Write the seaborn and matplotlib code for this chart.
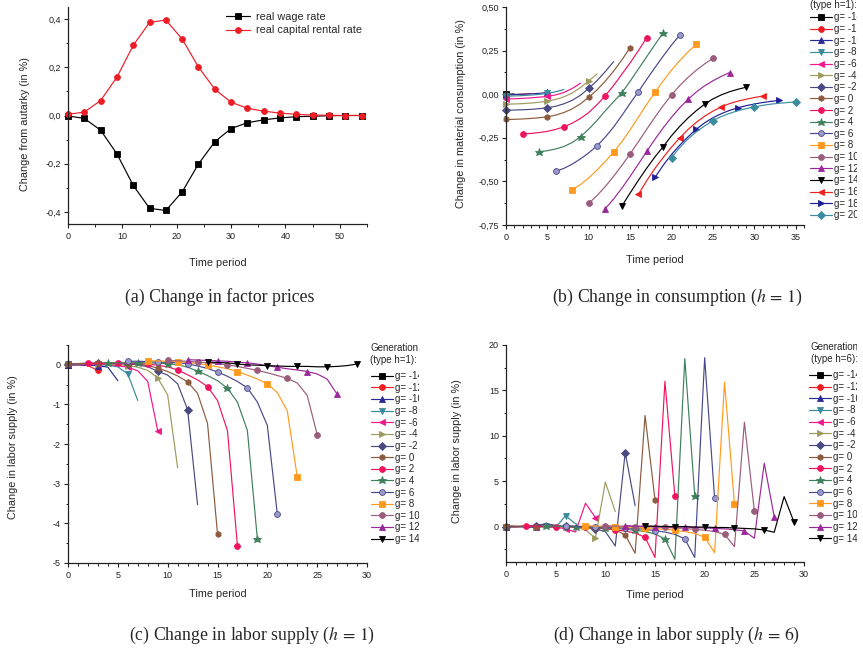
import matplotlib
matplotlib.use("Agg")
import matplotlib.pyplot as plt
from matplotlib import ticker, transforms
import seaborn as sns
import pandas as pd

# ---------------- data ----------------
# (a) factor prices
T_A = [0, 3, 6, 9, 12, 15, 18, 21, 24, 27, 30, 33, 36, 39, 42, 45, 48, 51, 54]
WAGE = [-0.002, -0.012, -0.061, -0.159, -0.290, -0.385, -0.394, -0.317, -0.201, -0.109,
        -0.054, -0.030, -0.018, -0.010, -0.005, -0.003, -0.001, 0.000, 0.000]
RENTAL = [0.005, 0.014, 0.062, 0.159, 0.291, 0.386, 0.396, 0.317, 0.201, 0.109,
          0.055, 0.030, 0.018, 0.010, 0.005, 0.002, 0.001, 0.000, 0.000]

# generations
GENS_B = [-14, -12, -10, -8, -6, -4, -2, 0, 2, 4, 6, 8, 10, 12, 14, 16, 18, 20]
GENS_CD = [-14, -12, -10, -8, -6, -4, -2, 0, 2, 4, 6, 8, 10, 12, 14]

# (b) consumption, h=1 (each series starts at t = max(0, g))
C_GM14 = [0.000, 0.001]
C_GM12 = [-0.003, -0.002, 0.000, 0.003]
C_GM10 = [-0.003, -0.002, 0.000, 0.002, 0.005, 0.010]
C_GM8 = [-0.011, -0.010, -0.008, -0.005, -0.001, 0.005, 0.014, 0.027]
C_GM6 = [-0.027, -0.026, -0.024, -0.021, -0.017, -0.013, -0.004, 0.010, 0.033, 0.063]
C_GM4 = [-0.057, -0.056, -0.054, -0.051, -0.046, -0.040, -0.030, -0.015, 0.007, 0.038, 0.076, 0.117]
C_GM2 = [-0.092, -0.091, -0.089, -0.087, -0.083, -0.078, -0.069, -0.055, -0.035, -0.006, 0.034, 0.078, 0.130, 0.187]
C_G0 = [-0.145, -0.144, -0.142, -0.139, -0.135, -0.130, -0.120, -0.105, -0.084, -0.055, -0.017, 0.025, 0.075, 0.132, 0.197, 0.267]
C_G2 = [-0.227, -0.225, -0.220, -0.213, -0.202, -0.187, -0.166, -0.139, -0.105, -0.060, -0.008, 0.050, 0.115, 0.180, 0.250, 0.324]
C_G4 = [-0.330, -0.324, -0.314, -0.300, -0.277, -0.244, -0.200, -0.150, -0.095, -0.043, 0.008, 0.075, 0.145, 0.215, 0.285, 0.353]
C_G6 = [-0.443, -0.425, -0.401, -0.371, -0.336, -0.296, -0.246, -0.188, -0.122, -0.052, 0.015, 0.085, 0.153, 0.219, 0.282, 0.340]
C_G8 = [-0.548, -0.518, -0.480, -0.435, -0.385, -0.332, -0.272, -0.204, -0.131, -0.058, 0.011, 0.077, 0.138, 0.193, 0.243, 0.286]
C_G10 = [-0.626, -0.581, -0.529, -0.471, -0.408, -0.342, -0.272, -0.201, -0.131, -0.065, -0.004, 0.050, 0.097, 0.138, 0.174, 0.206]
C_G12 = [-0.656, -0.601, -0.539, -0.471, -0.400, -0.328, -0.258, -0.192, -0.132, -0.077, -0.029, 0.013, 0.048, 0.077, 0.102, 0.124]
C_G14 = [-0.641, -0.566, -0.493, -0.424, -0.359, -0.300, -0.238, -0.184, -0.136, -0.094, -0.057, -0.027, -0.004, 0.014, 0.028, 0.040]
C_G16 = [-0.574, -0.496, -0.425, -0.362, -0.303, -0.250, -0.202, -0.161, -0.126, -0.097, -0.073, -0.054, -0.040, -0.029, -0.019, -0.011]
C_G18 = [-0.477, -0.407, -0.345, -0.292, -0.244, -0.200, -0.164, -0.135, -0.112, -0.093, -0.078, -0.066, -0.056, -0.048, -0.041, -0.036]
C_G20 = [-0.363, -0.305, -0.256, -0.216, -0.182, -0.151, -0.128, -0.110, -0.095, -0.083, -0.073, -0.064, -0.057, -0.052, -0.048, -0.044]
CONS = [C_GM14, C_GM12, C_GM10, C_GM8, C_GM6, C_GM4, C_GM2, C_G0, C_G2, C_G4,
        C_G6, C_G8, C_G10, C_G12, C_G14, C_G16, C_G18, C_G20]

# (c) labor supply, h=1
L1_GM14 = [0.00, 0.01]
L1_GM12 = [0.00, 0.00, -0.02, -0.14]
L1_GM10 = [0.00, 0.00, -0.01, -0.02, -0.06, -0.40]
L1_GM8 = [0.01, 0.01, 0.01, 0.01, -0.01, -0.05, -0.23, -0.90]
L1_GM6 = [0.02, 0.02, 0.02, 0.01, 0.00, -0.02, -0.06, -0.15, -0.42, -1.66]
L1_GM4 = [0.03, 0.03, 0.03, 0.03, 0.02, 0.00, -0.02, -0.06, -0.14, -0.33, -0.76, -2.60]
L1_GM2 = [0.03, 0.03, 0.04, 0.04, 0.04, 0.03, 0.02, 0.00, -0.05, -0.16, -0.26, -0.48, -1.13, -3.53]
L1_G0 = [0.03, 0.03, 0.04, 0.04, 0.04, 0.04, 0.03, 0.02, -0.02, -0.08, -0.17, -0.28, -0.43, -0.72, -1.48, -4.26]
L1_G2 = [0.04, 0.04, 0.04, 0.04, 0.04, 0.03, 0.02, -0.01, -0.05, -0.13, -0.25, -0.38, -0.55, -0.90, -1.66, -4.56]
L1_G4 = [0.05, 0.05, 0.05, 0.05, 0.05, 0.04, 0.03, 0.00, -0.06, -0.16, -0.27, -0.40, -0.59, -0.94, -1.66, -4.39]
L1_G6 = [0.09, 0.09, 0.08, 0.07, 0.06, 0.05, 0.03, -0.03, -0.09, -0.18, -0.29, -0.42, -0.58, -0.94, -1.53, -3.76]
L1_G8 = [0.10, 0.10, 0.09, 0.08, 0.06, 0.03, -0.01, -0.05, -0.10, -0.17, -0.26, -0.36, -0.48, -0.70, -1.16, -2.82]
L1_G10 = [0.11, 0.10, 0.09, 0.07, 0.05, 0.03, 0.00, -0.04, -0.09, -0.14, -0.20, -0.27, -0.34, -0.46, -0.77, -1.76]
L1_G12 = [0.13, 0.12, 0.11, 0.10, 0.09, 0.07, 0.05, 0.02, -0.02, -0.06, -0.10, -0.13, -0.17, -0.23, -0.36, -0.74]
L1_G14 = [0.07, 0.06, 0.05, 0.02, 0.00, -0.01, -0.02, -0.03, -0.04, -0.04, -0.04, -0.05, -0.05, -0.04, -0.02, 0.02]
LAB1 = [L1_GM14, L1_GM12, L1_GM10, L1_GM8, L1_GM6, L1_GM4, L1_GM2, L1_G0, L1_G2,
        L1_G4, L1_G6, L1_G8, L1_G10, L1_G12, L1_G14]

# (d) labor supply, h=6
L6_GM14 = [0.00, 0.02]
L6_GM12 = [-0.02, -0.05, 0.10, 0.05]
L6_GM10 = [0.00, 0.00, -0.05, -0.10, 0.35, 0.10]
L6_GM8 = [0.00, 0.00, 0.00, 0.00, -0.05, -0.10, 1.20, 0.30]
L6_GM6 = [0.00, 0.00, 0.00, 0.00, 0.00, -0.05, -0.25, -0.60, 2.57, 1.00]
L6_GM4 = [0.00, 0.00, 0.00, 0.00, 0.00, 0.00, 0.00, -0.10, -0.35, -1.29, 4.90, 1.65]
L6_GM2 = [0.00, 0.00, 0.05, 0.10, 0.30, 0.10, 0.05, 0.00, -0.10, -0.25, -0.55, -2.13, 8.16, 2.30]
L6_G0 = [0.10, 0.05, 0.05, 0.00, 0.00, 0.00, 0.00, -0.05, -0.10, -0.15, -0.20, -0.35, -0.92, -2.94, 12.24, 2.94]
L6_G2 = [0.05, 0.05, 0.00, 0.00, 0.00, -0.05, -0.10, -0.15, -0.25, -0.35, -0.50, -0.70, -1.18, -3.40, 16.00, 3.38]
L6_G4 = [0.05, 0.05, 0.00, 0.00, -0.05, -0.10, -0.15, -0.20, -0.30, -0.40, -0.55, -0.80, -1.36, -3.60, 18.50, 3.42]
L6_G6 = [0.10, 0.05, 0.00, 0.00, -0.05, -0.10, -0.15, -0.20, -0.30, -0.45, -0.60, -0.85, -1.36, -3.40, 18.60, 3.12]
L6_G8 = [0.10, 0.05, 0.05, 0.00, -0.05, -0.10, -0.15, -0.20, -0.30, -0.40, -0.55, -0.75, -1.18, -2.87, 15.90, 2.50]
L6_G10 = [0.10, 0.05, 0.05, 0.00, 0.00, -0.05, -0.10, -0.15, -0.20, -0.30, -0.40, -0.55, -0.85, -2.20, 11.50, 1.76]
L6_G12 = [0.10, 0.05, 0.05, 0.00, 0.00, -0.05, -0.05, -0.10, -0.15, -0.20, -0.25, -0.35, -0.48, -1.29, 6.98, 1.10]
L6_G14 = [0.05, 0.05, 0.00, 0.00, 0.00, -0.05, -0.05, -0.10, -0.10, -0.15, -0.20, -0.25, -0.37, -0.63, 3.30, 0.48]
LAB6 = [L6_GM14, L6_GM12, L6_GM10, L6_GM8, L6_GM6, L6_GM4, L6_GM2, L6_G0, L6_G2,
        L6_G4, L6_G6, L6_G8, L6_G10, L6_G12, L6_G14]

# ---------------- styles ----------------
STYLE = {
    -14: ("#000000", "s", None),
    -12: ("#f01c24", "o", None),
    -10: ("#2b2b96", "^", None),
    -8: ("#3a8a9e", "v", None),
    -6: ("#f0168c", "<", None),
    -4: ("#9c9a5e", ">", None),
    -2: ("#4a4a82", "D", None),
    0: ("#8c5a3e", "h", None),
    2: ("#ee1460", "o", None),
    4: ("#3f7f5c", "*", None),
    6: ("#48488c", "o", "#9a9ac8"),
    8: ("#ff9a1e", "s", None),
    10: ("#9a5c7c", "o", None),
    12: ("#9a289a", "^", None),
    14: ("#000000", "v", None),
    16: ("#f01e1e", "<", None),
    18: ("#1e1e96", ">", None),
    20: ("#3c8ca0", "D", None),
}

sns.set_style("ticks")
plt.rcParams.update({
    "font.family": ["Liberation Sans", "DejaVu Sans"],
    "mathtext.fontset": "stix",
    "axes.linewidth": 0.9,
    "axes.edgecolor": "#222222",
    "xtick.direction": "out",
    "ytick.direction": "out",
    "xtick.major.size": 3.0,
    "ytick.major.size": 3.0,
    "xtick.minor.size": 1.8,
    "ytick.minor.size": 1.8,
    "xtick.major.width": 0.8,
    "ytick.major.width": 0.8,
    "xtick.minor.width": 0.7,
    "ytick.minor.width": 0.7,
    "xtick.labelsize": 6.5,
    "ytick.labelsize": 6.5,
    "xtick.major.pad": 2.5,
    "ytick.major.pad": 2.0,
    "xtick.color": "#222222",
    "ytick.color": "#222222",
    "axes.labelsize": 7.8,
})

W, H = 863, 649
fig = plt.figure(figsize=(W / 100, H / 100), dpi=100)
fig.patch.set_facecolor("white")


def make_axes(x0, y0, x1, y1):
    ax = fig.add_axes([x0 / W, 1 - y1 / H, (x1 - x0) / W, (y1 - y0) / H])
    sns.despine(ax=ax)
    return ax


def dec_fmt(nd):
    def f(v, p):
        if abs(v) < 1e-9:
            v = 0.0
        return f"{v:.{nd}f}".replace(".", ",")
    return ticker.FuncFormatter(f)


def draw(ax, t, y, color, marker, every, label, mfc=None, ms=4.2):
    if marker == "*":
        ms = ms + 2.0
    sns.lineplot(x=t, y=y, ax=ax, color=color, lw=0.85, marker=marker,
                 markevery=every, markersize=ms, markeredgecolor=color,
                 markerfacecolor=mfc if mfc else color, markeredgewidth=0.6,
                 clip_on=False, label=label, legend=False, sort=False,
                 estimator=None)


def series_t(g, vals):
    s = max(0, g)
    return list(range(s, s + len(vals)))


# ---------------- (a) ----------------
axA = make_axes(68, 7, 367, 224)
draw(axA, T_A, WAGE, "#000000", "s", 1, "real wage rate")
draw(axA, T_A, RENTAL, "#ee1c25", "o", 1, "real capital rental rate")
axA.set_xlim(0, 55)
axA.set_ylim(-0.45, 0.45)
axA.xaxis.set_major_locator(ticker.MultipleLocator(10))
axA.xaxis.set_minor_locator(ticker.MultipleLocator(5))
axA.yaxis.set_major_locator(ticker.MultipleLocator(0.2))
axA.yaxis.set_minor_locator(ticker.MultipleLocator(0.1))
axA.yaxis.set_major_formatter(dec_fmt(1))
axA.set_xlabel("Time period")
axA.set_ylabel("Change from autarky (in %)")
axA.xaxis.set_label_coords(0.5, -0.155)
axA.yaxis.set_label_coords(-0.127, 0.46)
axA.legend(loc="upper left", bbox_to_anchor=(226 / W, 1 - 12.0 / H), bbox_transform=fig.transFigure,
           frameon=False, fontsize=7.8, borderpad=0, borderaxespad=0, labelspacing=0.32,
           handlelength=2.2, handletextpad=0.55)

# ---------------- (b) ----------------
axB = make_axes(506, 7, 804, 225)
for g, vals in zip(GENS_B, CONS):
    c, m, mfc = STYLE[g]
    draw(axB, series_t(g, vals), vals, c, m, 5, f"g= {g}", mfc)
axB.set_xlim(0, 36)
axB.set_ylim(-0.75, 0.5)
axB.xaxis.set_major_locator(ticker.MultipleLocator(5))
axB.xaxis.set_minor_locator(ticker.MultipleLocator(1))
axB.yaxis.set_major_locator(ticker.MultipleLocator(0.25))
axB.yaxis.set_minor_locator(ticker.MultipleLocator(0.125))
axB.yaxis.set_major_formatter(dec_fmt(2))
axB.set_xlabel("Time period")
axB.set_ylabel("Change in material consumption (in %)")
axB.xaxis.set_label_coords(0.5, -0.138)
axB.yaxis.set_label_coords(-0.134, 0.51)

# ---------------- (c) ----------------
axC = make_axes(68, 345, 367, 563)
for g, vals in zip(GENS_CD, LAB1):
    c, m, mfc = STYLE[g]
    draw(axC, series_t(g, vals), vals, c, m, 3, f"g= {g}", mfc)
axC.set_xlim(0, 30)
axC.set_ylim(-5, 0.5)
axC.xaxis.set_major_locator(ticker.MultipleLocator(5))
axC.xaxis.set_minor_locator(ticker.MultipleLocator(1))
axC.yaxis.set_major_locator(ticker.MultipleLocator(1))
axC.yaxis.set_minor_locator(ticker.MultipleLocator(0.5))
axC.yaxis.set_major_formatter(dec_fmt(0))
axC.set_xlabel("Time period")
axC.set_ylabel("Change in labor supply (in %)")
axC.xaxis.set_label_coords(0.5, -0.119)
axC.yaxis.set_label_coords(-0.167, 0.53)

# ---------------- (d) ----------------
axD = make_axes(506, 345, 804, 562)
for g, vals in zip(GENS_CD, LAB6):
    c, m, mfc = STYLE[g]
    draw(axD, series_t(g, vals), vals, c, m, 3, f"g= {g}", mfc)
axD.set_xlim(0, 30)
axD.set_ylim(-3.9, 20)
axD.xaxis.set_major_locator(ticker.MultipleLocator(5))
axD.xaxis.set_minor_locator(ticker.MultipleLocator(1))
axD.yaxis.set_major_locator(ticker.MultipleLocator(5))
axD.yaxis.set_minor_locator(ticker.MultipleLocator(2.5))
axD.yaxis.set_major_formatter(dec_fmt(0))
axD.set_xlabel("Time period")
axD.set_ylabel("Change in labor supply (in %)")
axD.xaxis.set_label_coords(0.5, -0.129)
axD.yaxis.set_label_coords(-0.146, 0.51)


# ---------------- legends for b, c, d ----------------
def gen_legend(ax, x_handle, y_first_top, title_x, title_mid_y, title, clip_x=None):
    leg = ax.legend(loc="upper left", bbox_to_anchor=(x_handle / W, 1 - y_first_top / H),
                    bbox_transform=fig.transFigure, frameon=False, fontsize=7,
                    borderpad=0, borderaxespad=0, labelspacing=0.17,
                    handlelength=2.25, handletextpad=0.25)
    t = fig.text(title_x / W, 1 - title_mid_y / H, title, ha="left", va="center",
                 fontsize=7, linespacing=1.25)
    if clip_x is not None:
        clipbox = transforms.TransformedBbox(
            transforms.Bbox.from_extents(0, 0, clip_x / W, 1), fig.transFigure)
        for txt in leg.get_texts():
            txt.set_clip_box(clipbox)
            txt.set_clip_on(True)
        t.set_clip_box(clipbox)
        t.set_clip_on(True)
    return leg


gen_legend(axB, 810, 12.3, 810, -1.5, "Generation\n(type h=1):", clip_x=857)
gen_legend(axC, 371, 371.0, 370, 354, "Generation\n(type h=1):", clip_x=419)
gen_legend(axD, 809, 370.5, 810.5, 353, "Generation\n(type h=6):", clip_x=857)

# ---------------- captions ----------------
cap_kw = dict(ha="center", va="center", fontsize=12.8, family=["Liberation Serif", "DejaVu Serif"])
fig.text(219.5 / W, 1 - 297 / H, "(a) Change in factor prices", **cap_kw)
fig.text(677 / W, 1 - 297 / H, "(b) Change in consumption ($h\\,=\\,1$)", **cap_kw)
fig.text(252 / W, 1 - 635 / H, "(c) Change in labor supply ($h\\,=\\,1$)", **cap_kw)
fig.text(677 / W, 1 - 635 / H, "(d) Change in labor supply ($h\\,=\\,6$)", **cap_kw)

fig.savefig("out.png", dpi=100, facecolor="white")
